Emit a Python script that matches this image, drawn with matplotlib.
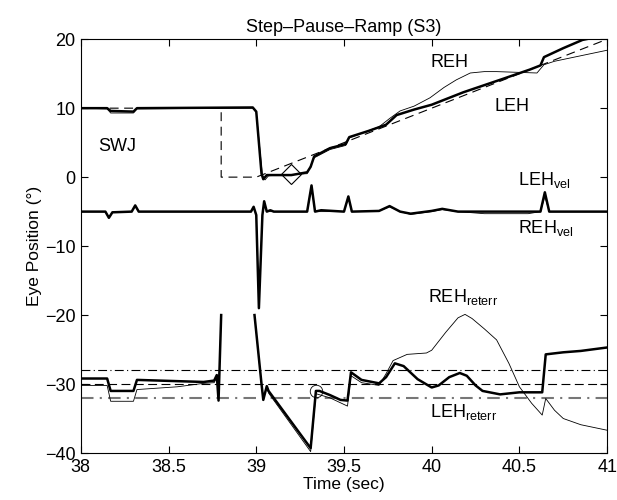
import numpy as np
import matplotlib.pyplot as plt

plt.rcParams['font.family'] = ['Liberation Sans', 'DejaVu Sans']
plt.rcParams['mathtext.fontset'] = 'custom'
plt.rcParams['mathtext.rm'] = 'Liberation Sans'
plt.rcParams['mathtext.default'] = 'regular'

nan = np.nan

# eye positions (deg)
leh_t = [38.0, 38.15, 38.17, 38.30, 38.32, 38.98, 39.0, 39.03, 39.04, 39.06, 39.2, 39.29, 39.31, 39.33,
         39.42, 39.51, 39.53, 39.64, 39.74, 39.80, 39.90, 40.0, 40.18, 40.40, 40.56, 40.62, 40.64,
         40.75, 40.86, 41.0]
leh_y = [10.0, 10.0, 9.6, 9.5, 10.0, 10.1, 9.5, 0.5, -0.3, 0.3, 0.3, 0.7, 1.5, 3.0,
         4.2, 4.8, 5.8, 6.7, 7.6, 9.0, 9.8, 10.5, 12.3, 14.2, 15.6, 16.2, 17.4,
         18.7, 19.9, 20.6]

reh_t = [38.0, 38.15, 38.17, 38.30, 38.32, 38.98, 39.0, 39.035, 39.05, 39.07, 39.29, 39.33, 39.42,
         39.51, 39.53, 39.70, 39.76, 39.82, 39.90, 39.99, 40.07, 40.14, 40.22, 40.30, 40.37, 40.60,
         40.64, 40.70, 40.85, 41.0]
reh_y = [10.0, 9.9, 9.3, 9.3, 9.9, 10.0, 9.4, 0.3, -0.4, 0.2, 0.5, 2.8, 4.0,
         4.6, 5.7, 7.3, 8.5, 9.6, 10.3, 11.5, 13.0, 14.1, 15.1, 15.3, 15.3, 15.1,
         16.3, 16.8, 17.6, 18.4]

target_t = [38.0, 38.8, 38.8, 39.0, 41.0]
target_y = [10.0, 10.0, 0.0, 0.0, 20.0]

# velocities (scaled, offset -5)
lvel_t = [38.0, 38.14, 38.16, 38.18, 38.29, 38.31, 38.33, 38.97, 38.985, 39.0, 39.015, 39.035, 39.045,
          39.06, 39.08, 39.10, 39.29, 39.315, 39.335, 39.37, 39.50, 39.525, 39.545, 39.70, 39.76,
          39.82, 39.88, 40.0, 40.06, 40.15, 40.62, 40.645, 40.67, 41.0]
lvel_y = [-5.0, -5.0, -5.9, -5.1, -5.0, -4.1, -5.0, -5.0, -4.3, -5.5, -19.0, -5.5, -3.5,
          -5.0, -4.8, -5.0, -5.0, -1.2, -5.0, -4.8, -5.0, -2.8, -5.0, -4.9, -4.2,
          -5.0, -5.3, -4.9, -4.6, -5.0, -5.0, -2.2, -5.0, -5.0]

rvel_t = [38.0, 38.14, 38.16, 38.18, 38.29, 38.31, 38.33, 38.97, 38.985, 39.0, 39.015, 39.035, 39.045,
          39.06, 39.10, 39.29, 39.315, 39.335, 39.50, 39.525, 39.545, 39.70, 39.76, 39.82, 39.88,
          40.0, 40.06, 40.15, 40.30, 40.55, 40.62, 40.645, 40.67, 41.0]
rvel_y = [-5.0, -5.0, -5.8, -5.1, -5.0, -4.2, -5.0, -5.0, -4.4, -5.4, -18.5, -5.4, -3.7,
          -5.0, -5.0, -5.0, -1.4, -5.0, -5.0, -3.0, -5.0, -4.9, -4.3, -5.0, -5.4,
          -5.0, -4.7, -5.0, -5.3, -5.3, -5.0, -2.8, -5.0, -5.0]

# retinal errors (offset -30)
lerr_t = [38.0, 38.15, 38.17, 38.30, 38.32, 38.70, 38.76, 38.775, 38.785, 38.80, 38.801, 38.989, 38.99,
          39.03, 39.04, 39.06, 39.07, 39.31, 39.34, 39.36, 39.42, 39.48, 39.52, 39.54, 39.60, 39.70,
          39.74, 39.79, 39.84, 39.92, 40.0, 40.04, 40.10, 40.16, 40.20, 40.25, 40.29, 40.39, 40.50,
          40.63, 40.65, 40.75, 40.85, 41.0]
lerr_y = [-29.2, -29.2, -31.0, -31.0, -29.4, -29.7, -29.5, -28.7, -32.4, -20.0, nan, nan, -20.0,
          -30.0, -32.3, -30.3, -31.0, -39.3, -31.0, -31.0, -31.6, -32.3, -32.4, -28.3, -29.4, -29.9,
          -29.0, -27.0, -27.4, -29.3, -30.5, -30.2, -29.0, -28.4, -28.8, -30.2, -31.0, -31.5, -31.2,
          -31.2, -25.7, -25.4, -25.2, -24.7]

rerr_t = [38.0, 38.15, 38.17, 38.30, 38.32, 38.55, 38.70, 38.76, 38.775, 38.785, 38.80, 38.801, 38.989,
          38.99, 39.03, 39.04, 39.06, 39.07, 39.31, 39.34, 39.42, 39.52, 39.54, 39.60, 39.70, 39.74,
          39.78, 39.86, 39.97, 40.0, 40.08, 40.15, 40.19, 40.23, 40.30, 40.37, 40.44, 40.50, 40.57,
          40.63, 40.65, 40.70, 40.75, 40.85, 41.0]
rerr_y = [-30.2, -30.2, -32.5, -32.5, -30.8, -30.4, -29.9, -29.8, -29.0, -32.0, -20.0, nan, nan,
          -20.0, -30.2, -32.0, -30.5, -31.3, -39.8, -31.4, -32.0, -33.2, -28.8, -29.8, -30.2, -28.5,
          -26.6, -25.7, -25.5, -25.1, -22.5, -20.4, -19.9, -20.5, -22.0, -23.6, -27.0, -30.4, -32.8,
          -34.5, -32.1, -33.8, -35.0, -35.9, -36.7]

fig = plt.figure(figsize=(6.17, 5.0), dpi=100)
ax = fig.add_axes([0.131, 0.094, 0.853, 0.8276])

ax.axhline(-28, color='black', ls='-.', lw=0.8, dashes=(8, 3, 1, 3))
ax.axhline(-30, color='black', ls='--', lw=0.8, dashes=(8, 4))
ax.axhline(-32, color='#777777', ls='-.', lw=1.5, dashes=(6, 3, 1, 3))

ax.plot(target_t, target_y, color='black', lw=0.8, dashes=(8, 5))
ax.plot(reh_t, reh_y, color='black', lw=0.6)
ax.plot(leh_t, leh_y, color='black', lw=1.8)
ax.plot(rvel_t, rvel_y, color='black', lw=0.6)
ax.plot(lvel_t, lvel_y, color='black', lw=1.8)
ax.plot(rerr_t, rerr_y, color='black', lw=0.6)
ax.plot(lerr_t, lerr_y, color='black', lw=1.8)

ax.plot([39.2], [0.4], marker='D', ms=10, mfc='none', mec='black', mew=0.8)
ax.plot([39.34], [-31.0], marker='o', ms=9, mfc='none', mec='black', mew=0.6)

fs = 13
ax.text(38.21, 4.4, 'SWJ', fontsize=fs, ha='center', va='center')
ax.text(40.10, 16.6, 'REH', fontsize=fs, ha='center', va='center')
ax.text(40.46, 10.3, 'LEH', fontsize=fs, ha='center', va='center')
ax.text(40.49, -0.4, 'LEH$_{vel}$', fontsize=fs, ha='left', va='center')
ax.text(40.49, -7.4, 'REH$_{vel}$', fontsize=fs, ha='left', va='center')
ax.text(39.98, -17.4, 'REH$_{reterr}$', fontsize=fs, ha='left', va='center')
ax.text(39.99, -34.0, 'LEH$_{reterr}$', fontsize=fs, ha='left', va='center')

ax.set_xlim(38, 41)
ax.set_ylim(-40, 20)
ax.set_xticks([38, 38.5, 39, 39.5, 40, 40.5, 41])
ax.set_xticklabels(['38', '38.5', '39', '39.5', '40', '40.5', '41'])
ax.set_yticks([-40, -30, -20, -10, 0, 10, 20])
ax.tick_params(direction='in', top=True, right=True, labelsize=fs, length=5, width=0.8, pad=4)
for s in ax.spines.values():
    s.set_linewidth(0.8)

ax.set_xlabel('Time (sec)', fontsize=12.5, labelpad=1)
ax.set_ylabel('Eye Position (\u00b0)', fontsize=12.5, labelpad=2)
ax.set_title('Step\u2013Pause\u2013Ramp (S3)', fontsize=13, pad=5)

fig.savefig('out.png', dpi=100)
